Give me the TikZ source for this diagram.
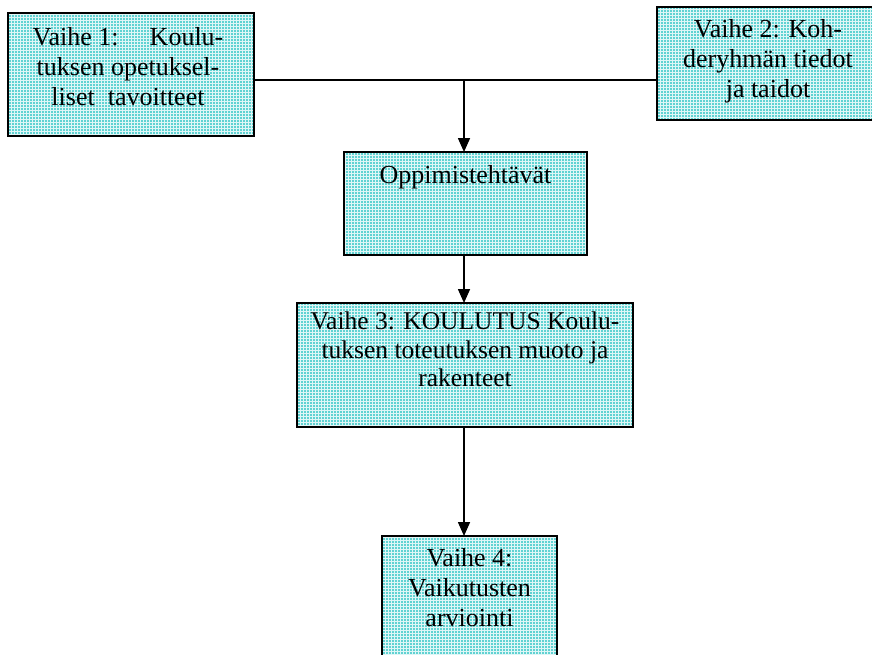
\documentclass[tikz,border=0pt]{standalone}
\usepackage{fontspec}
\setmainfont{Liberation Serif}
\usetikzlibrary{arrows.meta}
\definecolor{boxcyan}{RGB}{96,210,210}
\begin{document}
\begin{tikzpicture}[x=1pt,y=-1pt,
  stagebox/.style={fill=boxcyan,
    path picture={
      \draw[white, line width=0.9pt, opacity=0.8]
        ([shift={(-1,-1)}]path picture bounding box.north west) grid[step=3pt]
        ([shift={(1,1)}]path picture bounding box.south east);},
    postaction={draw=black, line width=1.8pt},
    anchor=north west, inner sep=0pt, outer sep=0pt},
  label/.style={anchor=north, inner sep=0pt, align=center,
    font=\fontsize{26}{30}\selectfont},
  link/.style={line width=1.6pt},
  flow/.style={line width=1.6pt, -{Triangle[width=12pt,length=14pt]}}]
\useasboundingbox (0,0) rectangle (872,654);
\clip (0,0) rectangle (872,654);

% stage boxes (the second and last run past the page edge)
\node[stagebox, minimum width=240pt, minimum height=113pt] (b2) at (657,7) {};
\node[stagebox, minimum width=246pt, minimum height=123pt] (b1) at (8,13) {};
\node[stagebox, minimum width=243pt, minimum height=103pt] (b3) at (344,152) {};
\node[stagebox, minimum width=336pt, minimum height=124pt] (b4) at (297,303) {};
\node[stagebox, minimum width=175pt, minimum height=140pt] (b5) at (382,536) {};

% box texts
\node[label, xshift=-3pt, yshift=-14pt] (t1) at (b1.north)
  {Vaihe 1:\hspace{1.2em}Koulu-\\tuksen opetuksel-\\liset\ \ tavoitteet};
\node[label, yshift=-12pt] (t2) at ([xshift=-9pt]b2.north)
  {Vaihe 2: Koh-\\deryhmän tiedot\\ja taidot};
\node[label, yshift=-13pt] (t3) at (b3.north) {Oppimistehtävät};
\node[label, font=\fontsize{25.5}{28.5}\selectfont, yshift=-9pt] (t4) at (b4.north)
  {Vaihe 3: KOULUTUS Koulu-\\tuksen toteutuksen muoto ja\\rakenteet};
\node[label, yshift=-12pt] (t5) at (b5.north)
  {Vaihe 4:\\Vaikutusten\\arviointi};

% connectors
\coordinate (j) at (464,80);
\draw[link] (b1.east |- j) -- (b2.west |- j);
\draw[flow] (j) -- (b3.north -| j);
\draw[flow] (b3.south -| j) -- (b4.north -| j);
\draw[flow] (b4.south -| j) -- (b5.north -| j);
\end{tikzpicture}
\end{document}
